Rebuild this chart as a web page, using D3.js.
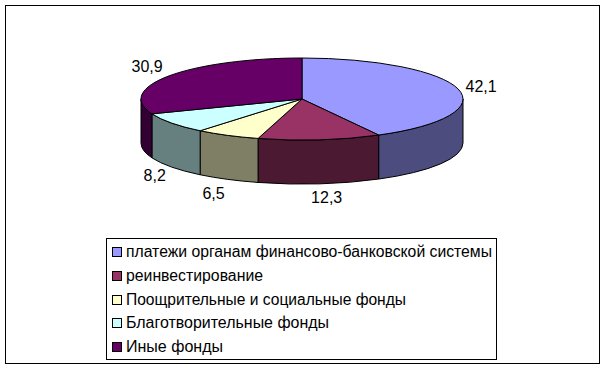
<!DOCTYPE html>
<html><head><meta charset="utf-8">
<script src="https://cdn.jsdelivr.net/npm/d3@7"></script>
<style>html,body{margin:0;padding:0;background:#fff}svg{display:block}text{font-family:"Liberation Sans",Arial,sans-serif;fill:#000}</style>
</head><body><svg id="c" width="606" height="369"></svg>
<script>
const categories = ["платежи органам финансово-банковской системы","реинвестирование","Поощрительные и социальные фонды","Благотворительные фонды","Иные фонды"];
const values = [42.1,12.3,6.5,8.2,30.9];
const valueLabels = ["42,1","12,3","6,5","8,2","30,9"];
const topColors = ["#9999FF","#993366","#FFFFCC","#CCFFFF","#660066"];
const sideColors = ["#4C4C7F","#4C1933","#7F7F66","#667F7F","#330033"];

const cx=302, cy=99, rx=161, ry=41, depth=44;
const labelOffsets=[[23,-3],[7,13],[-14,14],[-17,8],[-22,-10]];
const legendTextWidths=[366,137,280,203,97];
const svg=d3.select("#c");
svg.append("rect").attr("x",5.5).attr("y",5.5).attr("width",594).attr("height",358).attr("fill","#fff").attr("stroke","#000").attr("stroke-width",1);

const arcs=d3.pie().sort(null).startAngle(0).endAngle(2*Math.PI)(values);
const px=a=>cx+rx*Math.sin(a), py=a=>cy-ry*Math.cos(a);
const g=svg.append("g").attr("stroke","#000").attr("stroke-width",1).attr("stroke-linejoin","round");
// front wall, clipped to the visible half
arcs.forEach((d,i)=>{
  const a0=Math.max(d.startAngle,Math.PI/2), a1=Math.min(d.endAngle,3*Math.PI/2);
  if(a1<=a0) return;
  const s=`M${px(a0)},${py(a0)}L${px(a0)},${py(a0)+depth}A${rx},${ry} 0 0 1 ${px(a1)},${py(a1)+depth}L${px(a1)},${py(a1)}A${rx},${ry} 0 0 0 ${px(a0)},${py(a0)}Z`;
  g.append("path").attr("d",s).attr("fill",sideColors[i]);
});
// top face
arcs.forEach((d,i)=>{
  const a0=d.startAngle,a1=d.endAngle,large=(a1-a0)>Math.PI?1:0;
  g.append("path").attr("d",`M${cx},${cy}L${px(a0)},${py(a0)}A${rx},${ry} 0 ${large} 1 ${px(a1)},${py(a1)}Z`).attr("fill",topColors[i]);
});
// value labels
arcs.forEach((d,i)=>{
  const m=(d.startAngle+d.endAngle)/2, front=Math.cos(m)<0&&Math.abs(Math.sin(m))<0.95;
  svg.append("text").attr("x",px(m)+labelOffsets[i][0]).attr("y",py(m)+(front?depth:0)+labelOffsets[i][1]+6)
    .attr("text-anchor","middle").attr("font-size",16).text(valueLabels[i]);
});
// legend
const lg=svg.append("g");
lg.append("rect").attr("x",106.5).attr("y",238.5).attr("width",390).attr("height",121).attr("fill","#fff").attr("stroke","#000").attr("stroke-width",1);
const y=d3.scalePoint().domain(categories).range([252,347]);
categories.forEach((c,i)=>{
  const yc=Math.round(y(c));
  lg.append("rect").attr("x",112.5).attr("y",yc-4.5).attr("width",9).attr("height",9).attr("fill",topColors[i]).attr("stroke","#000");
  lg.append("text").attr("x",126).attr("y",yc+5).attr("font-size",16).attr("textLength",legendTextWidths[i]).attr("lengthAdjust","spacingAndGlyphs").text(c);
});
</script></body></html>
